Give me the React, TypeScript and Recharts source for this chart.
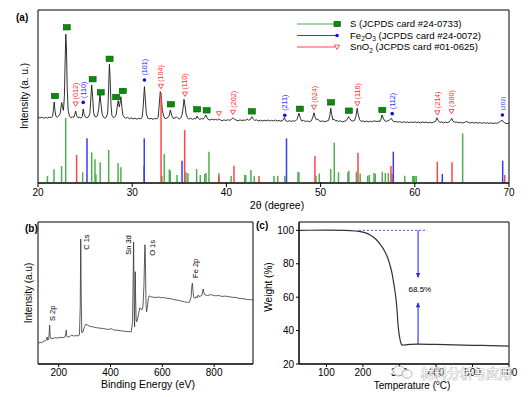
import {
  ComposedChart,
  Line,
  Scatter,
  XAxis,
  YAxis,
  ReferenceLine,
  ReferenceArea,
} from 'recharts'

const FONT = '"Liberation Sans", Arial, sans-serif'

// (a) XRD pattern, 2θ vs intensity (a.u., 0-100 scale of the panel)
const xrdPattern = [
  [20.0, 38.2], [20.2, 37.6], [20.4, 38.0], [20.6, 37.4], [20.8, 37.9], [21.0, 37.5], [21.2, 38.1], [21.4, 37.8],
  [21.55, 38.5], [21.65, 43], [21.72, 46.8], [21.8, 42], [21.9, 38.6], [22.05, 38.0], [22.2, 38.8], [22.35, 40],
  [22.45, 44], [22.52, 46.5], [22.6, 44], [22.7, 42], [22.8, 50], [22.88, 70], [22.95, 86], [23.02, 78], [23.1, 55],
  [23.2, 42], [23.35, 38.5], [23.5, 37.8], [23.65, 38.2], [23.8, 38.0], [23.9, 39.5], [24.0, 41.6], [24.1, 39],
  [24.25, 37.7], [24.4, 38.0], [24.55, 37.5], [24.7, 38.5], [24.8, 42.8], [24.9, 39.5], [25.05, 38.0], [25.2, 37.6],
  [25.35, 38.2], [25.5, 40.0], [25.6, 48], [25.7, 56.6], [25.8, 50], [25.9, 41], [26.0, 38.6], [26.15, 38.2],
  [26.3, 38.8], [26.45, 43], [26.58, 51.3], [26.7, 45], [26.8, 40], [26.95, 38.0], [27.1, 37.5], [27.25, 38.0],
  [27.4, 40.5], [27.5, 55], [27.58, 68.6], [27.66, 60], [27.75, 45], [27.85, 39], [28.0, 37.8], [28.15, 38.2],
  [28.3, 39.5], [28.45, 46], [28.52, 47.6], [28.62, 44], [28.7, 46], [28.8, 49.9], [28.9, 44], [29.0, 39.5],
  [29.15, 38], [29.3, 37.4], [29.5, 37.9], [29.7, 37.2], [29.9, 37.7], [30.1, 37.0], [30.3, 37.5], [30.5, 36.9],
  [30.7, 37.4], [30.9, 37.0], [31.05, 38.0], [31.15, 43], [31.3, 55.7], [31.4, 48], [31.5, 40], [31.65, 37.5],
  [31.8, 37.0], [32.0, 37.4], [32.2, 36.8], [32.4, 37.3], [32.6, 37.0], [32.75, 38.0], [32.85, 44], [32.98, 52.8],
  [33.08, 50], [33.2, 42], [33.35, 38.5], [33.5, 37.2], [33.7, 37.6], [33.9, 38.5], [34.05, 42.2], [34.2, 39.0],
  [34.35, 37.3], [34.55, 37.6], [34.7, 38.3], [34.85, 37.4], [35.0, 37.0], [35.15, 37.5], [35.3, 39.5], [35.42, 44],
  [35.5, 48.4], [35.6, 45], [35.72, 40], [35.85, 37.8], [36.0, 37.0], [36.2, 37.4], [36.4, 36.8], [36.6, 37.3],
  [36.75, 37.0], [36.88, 38.7], [37.0, 37.5], [37.15, 36.8], [37.35, 37.2], [37.55, 37.0], [37.7, 38.0], [37.8, 39.3],
  [37.92, 38.0], [38.05, 36.8], [38.25, 36.4], [38.45, 36.9], [38.65, 36.5], [38.85, 36.8], [39.05, 36.4], [39.2, 37.0],
  [39.35, 36.5], [39.55, 36.0], [39.75, 36.5], [39.95, 36.1], [40.15, 36.6], [40.35, 36.2], [40.55, 36.9], [40.7, 37.7],
  [40.85, 36.9], [41.05, 36.3], [41.25, 36.0], [41.45, 36.5], [41.65, 36.1], [41.85, 36.4], [42.05, 36.2], [42.2, 37.0],
  [42.35, 36.3], [42.55, 36.8], [42.7, 38.3], [42.85, 37.0], [43.0, 36.2], [43.2, 36.5], [43.4, 35.9], [43.6, 36.3],
  [43.8, 35.8], [44.0, 36.3], [44.2, 35.9], [44.4, 36.4], [44.6, 35.8], [44.8, 36.2], [45.0, 35.9], [45.2, 36.4],
  [45.4, 35.8], [45.6, 36.2], [45.8, 35.7], [46.0, 36.2], [46.15, 37.8], [46.3, 36.0], [46.5, 35.6], [46.7, 36.0],
  [46.9, 35.6], [47.1, 36.0], [47.3, 35.7], [47.5, 36.8], [47.7, 40.3], [47.85, 37.5], [48.0, 35.8], [48.2, 36.2],
  [48.4, 35.5], [48.6, 35.9], [48.8, 35.4], [49.0, 35.9], [49.15, 37.5], [49.3, 40.6], [49.42, 38.0], [49.55, 36.5],
  [49.7, 37.0], [49.85, 36.0], [50.05, 35.6], [50.25, 35.9], [50.45, 35.4], [50.65, 35.8], [50.85, 36.2], [50.98, 39.0],
  [51.08, 43.2], [51.18, 39.5], [51.3, 36.5], [51.45, 36.8], [51.6, 35.8], [51.75, 36.2], [51.9, 35.6], [52.1, 35.9],
  [52.3, 35.3], [52.5, 35.7], [52.7, 36.0], [52.85, 37.0], [52.98, 38.3], [53.1, 37.2], [53.25, 36.0], [53.4, 35.8],
  [53.6, 36.2], [53.75, 38.5], [53.88, 43.2], [54.0, 39.5], [54.15, 36.5], [54.3, 35.6], [54.5, 35.9], [54.7, 35.4],
  [54.9, 35.8], [55.1, 35.3], [55.3, 35.7], [55.5, 35.4], [55.7, 36.0], [55.9, 35.5], [56.1, 35.8], [56.3, 35.6],
  [56.42, 37.0], [56.52, 39.3], [56.65, 37.5], [56.8, 36.0], [56.95, 35.6], [57.1, 35.9], [57.3, 36.3], [57.5, 37.4],
  [57.65, 36.0], [57.8, 35.3], [58.0, 35.6], [58.2, 35.1], [58.4, 35.5], [58.6, 35.0], [58.8, 35.4], [59.0, 35.0],
  [59.2, 35.3], [59.4, 34.9], [59.6, 35.3], [59.8, 34.9], [60.0, 35.4], [60.2, 34.9], [60.4, 35.2], [60.6, 34.8],
  [60.8, 35.3], [61.0, 34.9], [61.2, 35.2], [61.4, 34.8], [61.6, 35.1], [61.8, 34.8], [62.0, 35.2], [62.2, 35.6],
  [62.35, 37.7], [62.5, 36.0], [62.65, 35.0], [62.85, 35.3], [63.05, 34.8], [63.25, 35.2], [63.45, 34.9], [63.65, 35.3],
  [63.8, 36.2], [63.92, 37.4], [64.05, 35.8], [64.25, 35.0], [64.45, 35.3], [64.65, 34.8], [64.85, 35.1], [65.05, 34.7],
  [65.25, 35.0], [65.5, 35.6], [65.7, 35.0], [65.9, 34.7], [66.1, 35.1], [66.3, 34.6], [66.5, 35.0], [66.7, 34.6],
  [66.9, 34.9], [67.1, 34.5], [67.3, 34.9], [67.5, 34.5], [67.7, 34.8], [67.9, 34.4], [68.1, 34.8], [68.3, 34.4],
  [68.5, 34.7], [68.7, 34.5], [68.9, 34.9], [69.1, 35.6], [69.25, 36.4], [69.4, 35.3], [69.6, 34.6], [69.8, 34.3],
  [70.0, 34.6],
]

// reference card lines [2θ, relative height]
const sSticks = [
  [21.0, 4.0], [21.7, 7.9], [22.5, 9.8], [22.94, 37.6], [24.74, 6.2], [25.7, 17.7], [26.05, 13.7], [26.15, 5.0],
  [26.6, 12.0], [27.5, 19.1], [28.5, 11.4], [28.8, 9.1], [31.25, 9.8], [33.15, 4.0], [33.4, 16.8], [33.94, 7.9],
  [34.04, 7.1], [34.76, 4.6], [35.71, 6.2], [35.92, 5.6], [36.84, 8.1], [37.23, 4.6], [37.7, 5.2], [37.83, 5.8],
  [38.15, 18.1], [39.2, 5.6], [40.5, 4.0], [41.95, 4.6], [42.05, 4.6], [42.6, 7.5], [42.96, 4.0], [45.05, 4.0],
  [45.45, 4.2], [46.2, 4.2], [47.6, 6.5], [47.7, 6.0], [49.5, 4.2], [49.86, 5.5], [51.07, 8.1], [51.45, 23.3],
  [51.9, 6.2], [52.9, 6.2], [53.0, 7.1], [53.8, 6.5], [54.2, 5.5], [55.0, 4.2], [55.17, 4.6], [55.67, 5.8],
  [55.8, 5.4], [56.55, 6.5], [56.87, 5.8], [57.19, 5.8], [57.58, 5.4], [58.93, 4.2], [59.78, 4.0], [59.89, 4.0],
  [60.0, 4.0], [60.15, 4.0], [65.08, 28.7],
]
const feSticks = [[25.2, 25.8], [31.28, 25.8], [35.29, 12.9], [46.38, 25.8], [57.72, 18.1], [62.92, 5.2], [69.33, 12.9]]
const snSticks = [
  [24.1, 16.2], [33.06, 52], [35.57, 30.6], [39.2, 4.0], [40.8, 10.0], [43.46, 4.0], [49.4, 15.6], [53.97, 17.5],
  [57.47, 9.8], [62.39, 12.3], [63.95, 12.0], [69.55, 4.6],
]

// phase markers above the peaks
const sMarks = [
  [21.8, 50.3], [23.05, 90], [25.8, 60], [26.66, 52.4], [27.6, 71.8], [28.3, 49.7], [29.0, 53.2], [34.1, 45.5],
  [36.9, 42.6], [37.9, 42.0], [42.7, 41.4], [47.8, 42.9], [51.1, 46.6], [53.0, 41.8], [56.55, 42.2],
]
const feMarks = [
  { x: 24.8, y: 46.6, hkl: '(110)' },
  { x: 31.3, y: 59.5, hkl: '(101)' },
  { x: 46.2, y: 39.1, hkl: '(211)' },
  { x: 57.6, y: 40.1, hkl: '(112)' },
  { x: 69.3, y: 39.3, hkl: '[202]' },
]
const snMarks = [
  { x: 24.0, y: 45.7, hkl: '(012)' },
  { x: 33.05, y: 55.9, hkl: '(104)' },
  { x: 35.6, y: 51.4, hkl: '(110)' },
  { x: 39.2, y: 40.1, hkl: '' },
  { x: 40.7, y: 40.9, hkl: '(202)' },
  { x: 49.3, y: 43.8, hkl: '(024)' },
  { x: 53.9, y: 45.8, hkl: '(116)' },
  { x: 62.4, y: 40.6, hkl: '(214)' },
  { x: 63.9, y: 41.4, hkl: '(300)' },
]

// (b) XPS survey, binding energy (eV) vs intensity
const xps = [
  [120, 14.6], [128, 15.2], [135, 15.0], [142, 16.0], [148, 16.4], [152, 17.0], [155, 19.0], [157, 16.8],
  [161, 17.2], [163, 21], [165, 27.4], [167, 19.5], [170, 17.8], [178, 18.0], [186, 18.6], [195, 18.2],
  [205, 18.8], [215, 18.5], [224, 19.0], [227, 21.5], [229, 23.8], [231, 20.0], [234, 18.9], [242, 19.4],
  [250, 20.3], [258, 19.7], [266, 20.0], [274, 19.8], [280, 20.5], [283, 40], [285, 88], [287, 45], [289, 22],
  [293, 22.5], [298, 25.5], [304, 27.9], [310, 27.5], [318, 26.7], [330, 26.2], [345, 25.6], [360, 25.2],
  [372, 25.0], [385, 24.5], [398, 24.4], [405, 25.0], [410, 24.0], [425, 23.8], [440, 23.4], [455, 23.0],
  [470, 22.8], [480, 22.6], [485, 30], [488, 70], [489, 85.8], [490, 70], [492, 30], [493, 26.2], [494, 45],
  [495.5, 65], [497, 45], [499, 31], [501, 29.7], [507, 34], [513, 39.6], [517, 39.0], [521, 38], [525, 40],
  [529, 55], [532, 80], [533, 84], [534.5, 75], [537, 42], [539, 36.8], [542, 40], [546, 46], [549, 48],
  [555, 47.4], [565, 47.0], [575, 46.8], [585, 47.2], [595, 46.6], [605, 46.9], [615, 46.3], [626, 46.2],
  [640, 45.6], [655, 45.0], [670, 44.5], [685, 43.8], [697, 43.4], [705, 43.6], [711, 47], [714, 55],
  [716, 56.8], [718, 52], [721, 47], [726, 46.2], [731, 47.5], [735, 46.5], [739, 48.6], [744, 47.2],
  [748, 47.9], [753, 48.5], [756, 51.5], [758, 52.8], [760, 50.5], [763, 48.8], [767, 48.6], [775, 48.2],
  [785, 48.8], [793, 48.6], [805, 48.0], [818, 48.2], [830, 47.6], [845, 47.8], [857, 47.4], [870, 47.0],
  [885, 46.8], [900, 46.1], [915, 45.9], [930, 45.3], [940, 45.4], [950, 45.0],
]
const xpsLabels = [
  { x: 174, y: 30.2, t: 'S 2p' },
  { x: 305, y: 80.4, t: 'C 1s' },
  { x: 467, y: 76.9, t: 'Sn 3d' },
  { x: 560, y: 76.2, t: 'O 1s' },
  { x: 727, y: 60.6, t: 'Fe 2p' },
]

// (c) TGA, temperature (°C) vs weight (%)
const tga = [
  [25, 100], [100, 100.1], [150, 100], [180, 99.6], [200, 98.9], [220, 97.2], [235, 94.8], [250, 90.8],
  [260, 87.3], [267, 84], [275, 78.5], [280, 74], [285, 67.5], [290, 60], [293, 53.5], [296, 44], [299, 38],
  [302, 34.3], [305, 32], [308, 31.3], [315, 31.4], [330, 31.8], [350, 31.9], [400, 31.7], [450, 31.5],
  [500, 31.2], [550, 31.0], [600, 30.7],
]
const lossText = [{ x: 356, y: 65, t: '68.5%' }]
const arrowHeads = [
  { x: 351, y: 71.5, dir: 1 },
  { x: 351, y: 57, dir: -1 },
]

const toPts = (arr: number[][]) => arr.map(([x, y]) => ({ x, y }))

const GREEN = '#4fae4f'
const BLUE = '#3a3aff'
const RED = '#ff4545'

const tickStyle = { fontSize: 10, fill: '#000', fontFamily: FONT }

const SquareMark = ({ cx, cy }: any) => (
  <rect x={cx - 3.5} y={cy - 2.7} width={7} height={5.4} fill='#0b8a0b' stroke='#055a05' strokeWidth={0.6} />
)

const hklText = (cx: number, cy: number, hkl: string, color: string) => {
  if (!hkl) return null
  const small = hkl.startsWith('[')
  const y = cy - 4.5
  return (
    <text
      x={cx}
      y={y}
      transform={`rotate(-90 ${cx} ${y})`}
      dy='0.35em'
      fontSize={small ? 6 : 7.2}
      fill={color}
      fontFamily={FONT}
    >
      {small ? '(202)' : hkl}
    </text>
  )
}

const FeMark = ({ cx, cy, payload }: any) => (
  <g>
    <circle cx={cx} cy={cy} r={1.8} fill='#0a0aff' />
    {hklText(cx, cy, payload.hkl, '#2a2aff')}
  </g>
)

const SnMark = ({ cx, cy, payload }: any) => (
  <g>
    <path
      d={`M${cx - 2.6},${cy - 2} L${cx + 2.6},${cy - 2} L${cx},${cy + 2.4} Z`}
      fill='none'
      stroke='#ff2a2a'
      strokeWidth={0.8}
    />
    {hklText(cx, cy, payload.hkl, '#ff2a2a')}
  </g>
)

const PeakLabel = ({ cx, cy, payload }: any) => (
  <text x={cx} y={cy} transform={`rotate(-90 ${cx} ${cy})`} dy='0.35em' fontSize={7.5} fill='#000' fontFamily={FONT}>
    {payload.t}
  </text>
)

const CenterText = ({ cx, cy, payload }: any) => (
  <text x={cx} y={cy} textAnchor='middle' dy='0.35em' fontSize={8} fill='#000' fontFamily={FONT}>
    {payload.t}
  </text>
)

const ArrowHead = ({ cx, cy, payload }: any) => {
  const d = payload.dir
  return <path d={`M${cx - 2.2},${cy - 5 * d} L${cx + 2.2},${cy - 5 * d} L${cx},${cy} Z`} fill='#2a2aff' />
}

const XrdChart = () => (
  <ComposedChart width={528} height={200} margin={{ top: 10, right: 19, bottom: 0, left: 38 }}>
    <XAxis
      type='number'
      dataKey='x'
      domain={[20, 70]}
      ticks={[20, 30, 40, 50, 60, 70]}
      allowDataOverflow
      height={17}
      tick={tickStyle}
      tickSize={4}
      tickMargin={2}
      axisLine={{ stroke: '#000' }}
      tickLine={{ stroke: '#000' }}
    />
    <YAxis hide type='number' dataKey='y' domain={[0, 100]} allowDataOverflow />
    <Line
      data={toPts(xrdPattern)}
      dataKey='y'
      type='linear'
      dot={false}
      stroke='#1a1a1a'
      strokeWidth={0.9}
      isAnimationActive={false}
    />
    {sSticks.map(([x, h], i) => (
      <ReferenceLine key={`s${i}`} segment={[{ x, y: 0 }, { x, y: h }]} stroke={GREEN} strokeWidth={1.5} />
    ))}
    {feSticks.map(([x, h], i) => (
      <ReferenceLine key={`f${i}`} segment={[{ x, y: 0 }, { x, y: h }]} stroke={BLUE} strokeWidth={1.5} />
    ))}
    {snSticks.map(([x, h], i) => (
      <ReferenceLine key={`n${i}`} segment={[{ x, y: 0 }, { x, y: h }]} stroke={RED} strokeWidth={1.5} />
    ))}
    <Scatter data={toPts(sMarks)} dataKey='y' shape={SquareMark} isAnimationActive={false} />
    <Scatter data={feMarks} dataKey='y' shape={FeMark} isAnimationActive={false} />
    <Scatter data={snMarks} dataKey='y' shape={SnMark} isAnimationActive={false} />
    <ReferenceArea x1={20} x2={70} y1={0} y2={100} fill='none' stroke='#000' strokeWidth={1} fillOpacity={0} />
  </ComposedChart>
)

const XpsChart = () => (
  <ComposedChart width={265} height={170} data={toPts(xps)} margin={{ top: 7, right: 12, bottom: 4, left: 38 }}>
    <XAxis
      type='number'
      dataKey='x'
      domain={[120, 950]}
      ticks={[200, 400, 600, 800]}
      allowDataOverflow
      height={17}
      tick={tickStyle}
      tickSize={3}
      tickMargin={2}
      axisLine={{ stroke: '#000' }}
      tickLine={{ stroke: '#000' }}
    />
    <YAxis hide type='number' dataKey='y' domain={[0, 100]} allowDataOverflow />
    <Line dataKey='y' type='linear' dot={false} stroke='#333' strokeWidth={0.8} isAnimationActive={false} />
    <Scatter data={xpsLabels} dataKey='y' shape={PeakLabel} isAnimationActive={false} />
    <ReferenceArea x1={120} x2={950} y1={0} y2={100} fill='none' stroke='#000' strokeWidth={1} fillOpacity={0} />
  </ComposedChart>
)

const TgaChart = () => (
  <ComposedChart width={265} height={170} data={toPts(tga)} margin={{ top: 7, right: 11, bottom: 4, left: 14 }}>
    <XAxis
      type='number'
      dataKey='x'
      domain={[25, 600]}
      ticks={[100, 200, 300, 400, 500, 600]}
      allowDataOverflow
      height={17}
      tick={tickStyle}
      tickSize={3}
      tickMargin={2}
      axisLine={{ stroke: '#000' }}
      tickLine={{ stroke: '#000' }}
    />
    <YAxis
      type='number'
      dataKey='y'
      domain={[20, 105]}
      ticks={[20, 40, 60, 80, 100]}
      allowDataOverflow
      width={30}
      tick={tickStyle}
      tickSize={3}
      tickMargin={2}
      axisLine={{ stroke: '#000' }}
      tickLine={{ stroke: '#000' }}
    />
    <ReferenceLine segment={[{ x: 189, y: 100 }, { x: 376, y: 100 }]} stroke='#6a6aff' strokeWidth={1.2} strokeDasharray='2 2' />
    <ReferenceLine segment={[{ x: 351, y: 100 }, { x: 351, y: 72 }]} stroke='#2a2aff' strokeWidth={1.1} />
    <ReferenceLine segment={[{ x: 351, y: 31.8 }, { x: 351, y: 56.5 }]} stroke='#2a2aff' strokeWidth={1.1} />
    <Line dataKey='y' type='monotone' dot={false} stroke='#333' strokeWidth={1.2} isAnimationActive={false} />
    <Scatter data={arrowHeads} dataKey='y' shape={ArrowHead} isAnimationActive={false} />
    <Scatter data={lossText} dataKey='y' shape={CenterText} isAnimationActive={false} />
    <ReferenceArea x1={25} x2={600} y1={20} y2={105} fill='none' stroke='#000' strokeWidth={1} fillOpacity={0} />
  </ComposedChart>
)

const Overlay = () => (
  <svg width={528} height={397} style={{ position: 'absolute', left: 0, top: 0, pointerEvents: 'none' }} fontFamily={FONT}>
    <text x={16} y={21} fontSize={10} fontWeight='bold'>(a)</text>
    <text x={24} y={96} fontSize={10} textAnchor='middle' transform='rotate(-90 24 96)' dy='0.35em'>Intensity (a. u.)</text>
    <text x={277} y={205} fontSize={10.5} textAnchor='middle' dy='0.35em'>2θ (degree)</text>

    {/* legend */}
    <line x1={297} y1={24} x2={335} y2={24} stroke={GREEN} strokeWidth={1.2} />
    <rect x={334} y={21.3} width={6.5} height={5.4} fill='#0b8a0b' stroke='#055a05' strokeWidth={0.6} />
    <text x={350} y={24} fontSize={9.6} dy='0.35em'>S (JCPDS card #24-0733)</text>
    <line x1={297} y1={35.5} x2={335} y2={35.5} stroke={BLUE} strokeWidth={1.2} />
    <circle cx={337} cy={35.5} r={1.8} fill='#0a0aff' />
    <text x={350} y={35.5} fontSize={9.6} dy='0.35em'>
      Fe<tspan fontSize={6.5} dy='2.5'>2</tspan>
      <tspan dy='-2.5'>O</tspan>
      <tspan fontSize={6.5} dy='2.5'>3</tspan>
      <tspan dy='-2.5'> (JCPDS card #24-0072)</tspan>
    </text>
    <line x1={297} y1={47} x2={335} y2={47} stroke={RED} strokeWidth={1.2} />
    <path d='M334.4,45 L339.6,45 L337,49.4 Z' fill='none' stroke='#ff2a2a' strokeWidth={0.8} />
    <text x={350} y={47} fontSize={9.6} dy='0.35em'>
      SnO<tspan fontSize={6.5} dy='2.5'>2</tspan>
      <tspan dy='-2.5'> (JCPDS card #01-0625)</tspan>
    </text>

    <text x={25} y={232} fontSize={10} fontWeight='bold'>(b)</text>
    <text x={28} y={293} fontSize={10} textAnchor='middle' transform='rotate(-90 28 293)' dy='0.35em'>Intensity (a.u)</text>
    <text x={148} y={384} fontSize={10.5} textAnchor='middle' dy='0.35em'>Binding Energy (eV)</text>

    <text x={256} y={229} fontSize={10} fontWeight='bold'>(c)</text>
    <text x={268} y={287} fontSize={10} textAnchor='middle' transform='rotate(-90 268 287)' dy='0.35em'>Weight (%)</text>
    <text x={412} y={385} fontSize={10} textAnchor='middle' dy='0.35em'>
      Temperature (<tspan fontSize={6.5} dy='-3.5'>o</tspan>
      <tspan dy='3.5'>C)</tspan>
    </text>

    {/* watermark */}
    <g opacity={0.9}>
      <ellipse cx={399} cy={371} rx={6} ry={5} fill='#fff' stroke='#999' strokeWidth={0.8} />
      <ellipse cx={407} cy={374} rx={5} ry={4.2} fill='#fff' stroke='#999' strokeWidth={0.8} />
      <text
        x={421}
        y={373}
        fontSize={13}
        dy='0.35em'
        fontFamily='"Noto Sans CJK SC", sans-serif'
        fill='#fff'
        stroke='#8a8a8a'
        strokeWidth={0.7}
        style={{ paintOrder: 'stroke' }}
      >
        材料分析与应用
      </text>
    </g>
  </svg>
)

export default function App() {
  return (
    <div style={{ position: 'absolute', left: 0, top: 0, width: 528, height: 397, background: '#fff' }}>
      <div style={{ position: 'absolute', left: 0, top: 0 }}>
        <XrdChart />
      </div>
      <div style={{ position: 'absolute', left: 0, top: 215 }}>
        <XpsChart />
      </div>
      <div style={{ position: 'absolute', left: 255, top: 215 }}>
        <TgaChart />
      </div>
      <Overlay />
    </div>
  )
}
